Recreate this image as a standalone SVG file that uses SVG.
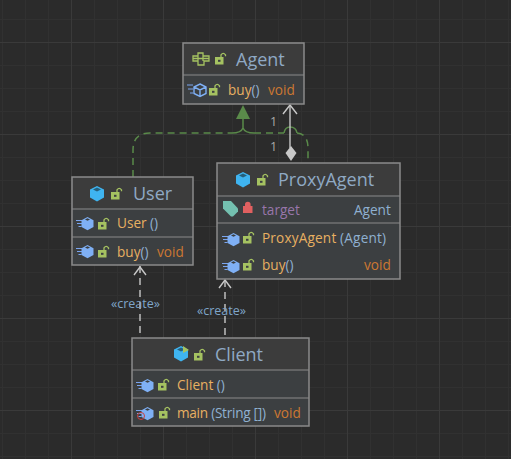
<svg xmlns="http://www.w3.org/2000/svg" width="511" height="459" viewBox="0 0 511 459">
<style>
text{font-family:"Open Sans","Noto Sans",sans-serif;font-size:13.6px}
.t{font-size:18px;fill:#8fa9c4}
.n{fill:#e8b061}
.p{fill:#8fb0d0}
.v{fill:#cc7832}
.box{fill:#3c3f41;stroke:#8a8a8a;stroke-width:1.5}
.hd{fill:#3c3c3c}
.sep{stroke:#8a8a8a;stroke-width:1}
.gd{stroke:#5a8a4a;stroke-width:1.5;fill:none;stroke-dasharray:7 5}
.sl{stroke:#5a8a4a;stroke-width:1.5;fill:none}
.wl{stroke:#c8c8c8;stroke-width:1.4;fill:none}
.lb{font-size:12.500px;fill:#a9a9a9}
.cr{font-size:12.500px;fill:#7fa5c9}
</style>
<defs>
<pattern id="minor" width="23" height="23" patternUnits="userSpaceOnUse" x="2" y="19"><path d="M0.500 0V23M0 0.500H23" stroke="#313131" fill="none"/></pattern>
<pattern id="major" width="92" height="92" patternUnits="userSpaceOnUse" x="71" y="42"><path d="M0.500 0V92M0 0.500H92" stroke="#3a3a3a" fill="none"/></pattern>
<g id="lock"><rect x="0" y="4" width="8.500" height="7.500" fill="#a5c261"/><path d="M6 4V1.800Q8.200 -1.200 10.500 1.800V3.200" fill="none" stroke="#a5c261" stroke-width="1.300"/><rect x="3" y="6.800" width="2.500" height="2" fill="#3c3f41"/></g>
<g id="meth"><path d="M0 1.500h6M1 4.500h5M2.500 7.500h3" stroke="#7aa5f0" stroke-width="1.200"/><path d="M11.500 -2l6 3.200v6.800l-6 3.200l-6-3.200v-6.800z" fill="#7fb0f5"/><path d="M9 0.500l2.500-1.300 2.500 1.300-2.500 1.300z" fill="#3c3f41"/></g>
<g id="cube"><path d="M7 0l7 3.500v8l-7 4l-7-4v-8z" fill="#3fb4f0"/><path d="M3 3.500l4-2 4 2-4 2z" fill="#26607c"/></g>
</defs>
<rect width="511" height="459" fill="#2b2b2b"/>
<rect width="511" height="459" fill="url(#minor)"/>
<rect width="511" height="459" fill="url(#major)"/>
<g id="connectors">
<path class="gd" d="M133 177V150Q133 133 150 133H232"/>
<path class="sl" d="M232 133Q241 133 243 128V118M243 128Q245 133 254 133"/>
<path class="gd" d="M254 133H284"/>
<path class="sl" d="M284 133Q285 127 290 127Q296 127 297 133"/>
<path class="gd" d="M297 133Q308 134 308 148V162"/>
<path d="M243 105l7 14h-14z" fill="#5a8a4a"/>
<path class="wl" d="M290 105V148"/><path class="wl" d="M283 114l7-9 7 9"/>
<path d="M291 146l5.500 7-5.500 8-5.500-8z" fill="#c8c8c8"/>
<text class="lb" x="270" y="126">1</text><text class="lb" x="270" y="151">1</text>
<path class="wl" stroke-dasharray="7 5" d="M140 266V337"/><path class="wl" d="M134 275l6-8 6 8"/>
<path class="wl" stroke-dasharray="7 5" d="M225 280V337"/><path class="wl" d="M219 288l6-8 6 8"/>
<text class="cr" x="111" y="308">«create»</text><text class="cr" x="197" y="315">«create»</text>
</g>
<g id="Agent">
<rect class="box" x="183" y="43" width="121" height="61"/>
<rect class="hd" x="184" y="44" width="119" height="29"/>
<line class="sep" x1="183" y1="75" x2="304" y2="75"/>
<path d="M193 56h5v-3h5v3h6v5h-5v4h-6v-4h-5zM198 56v5M203 56v5M193 58.500h16" fill="none" stroke="#a5c261" stroke-width="1.300"/>
<use href="#lock" x="215" y="53"/>
<text class="t" x="236" y="66">Agent</text>
<path d="M187 85h6M188 89h5M190 93h3" stroke="#7aa5f0" stroke-width="1.200"/>
<path d="M200 84l6 3v6.500l-6 3l-6-3v-6.500zM194 87l6 3 6-3M200 90v6" fill="none" stroke="#7fb0f5" stroke-width="1.400"/>
<use href="#lock" x="209" y="84"/>
<text class="n" x="228" y="95">buy<tspan class="p">()</tspan></text><text class="v" x="268" y="95">void</text>
</g>
<g id="User">
<rect class="box" x="72" y="177" width="121" height="88"/>
<rect class="hd" x="73" y="178" width="119" height="30"/>
<line class="sep" x1="72" y1="209" x2="193" y2="209"/><line class="sep" x1="72" y1="237" x2="193" y2="237"/>
<use href="#cube" x="90" y="186"/><use href="#lock" x="111" y="188"/>
<text class="t" x="133" y="200">User</text>
<use href="#meth" x="76" y="219"/><use href="#lock" x="98" y="218"/>
<text class="n" x="117" y="228">User <tspan class="p">()</tspan></text>
<use href="#meth" x="76" y="247"/><use href="#lock" x="98" y="246"/>
<text class="n" x="117" y="257">buy<tspan class="p">()</tspan></text><text class="v" x="157" y="257">void</text>
</g>
<g id="ProxyAgent">
<rect class="box" x="217" y="163" width="183" height="116"/>
<rect class="hd" x="218" y="164" width="181" height="31"/>
<line class="sep" x1="217" y1="196" x2="400" y2="196"/><line class="sep" x1="217" y1="223" x2="400" y2="223"/>
<use href="#cube" x="236" y="172"/><use href="#lock" x="257" y="174"/>
<text class="t" x="278" y="186">ProxyAgent</text>
<path d="M223 201h8l7 7.500v3l-5 5h-2l-8-8z" fill="#74c0b0"/>
<path d="M245 206v-1.500a2.800 2.800 0 0 1 5.600 0v1.500h1.900v7h-9.500v-7z" fill="#e06060"/>
<text x="262" y="215" fill="#9876aa">target</text><text x="354" y="215" fill="#8fb0d0">Agent</text>
<use href="#meth" x="222" y="235"/><use href="#lock" x="243" y="232"/>
<text class="n" x="262" y="243" textLength="124">ProxyAgent <tspan class="p">(Agent)</tspan></text>
<use href="#meth" x="222" y="262"/><use href="#lock" x="243" y="259"/>
<text class="n" x="262" y="270">buy<tspan class="p">()</tspan></text><text class="v" x="364" y="270">void</text>
</g>
<g id="Client">
<rect class="box" x="132" y="338" width="177" height="88"/>
<rect class="hd" x="133" y="339" width="175" height="31"/>
<line class="sep" x1="132" y1="370" x2="309" y2="370"/><line class="sep" x1="132" y1="398" x2="309" y2="398"/>
<use href="#cube" x="174" y="346"/><path d="M183 346l6 4-6 3z" fill="#a5c261"/><use href="#lock" x="194" y="349"/>
<text class="t" x="215" y="361">Client</text>
<use href="#meth" x="136" y="381"/><use href="#lock" x="158" y="379"/>
<text class="n" x="177" y="390">Client <tspan class="p">()</tspan></text>
<use href="#meth" x="136" y="409"/><circle cx="141" cy="416" r="3.500" fill="none" stroke="#c84040"/><use href="#lock" x="159" y="407"/>
<text class="n" x="177" y="418" textLength="89">main <tspan class="p">(String [])</tspan></text><text class="v" x="274" y="418">void</text>
</g>
</svg>
